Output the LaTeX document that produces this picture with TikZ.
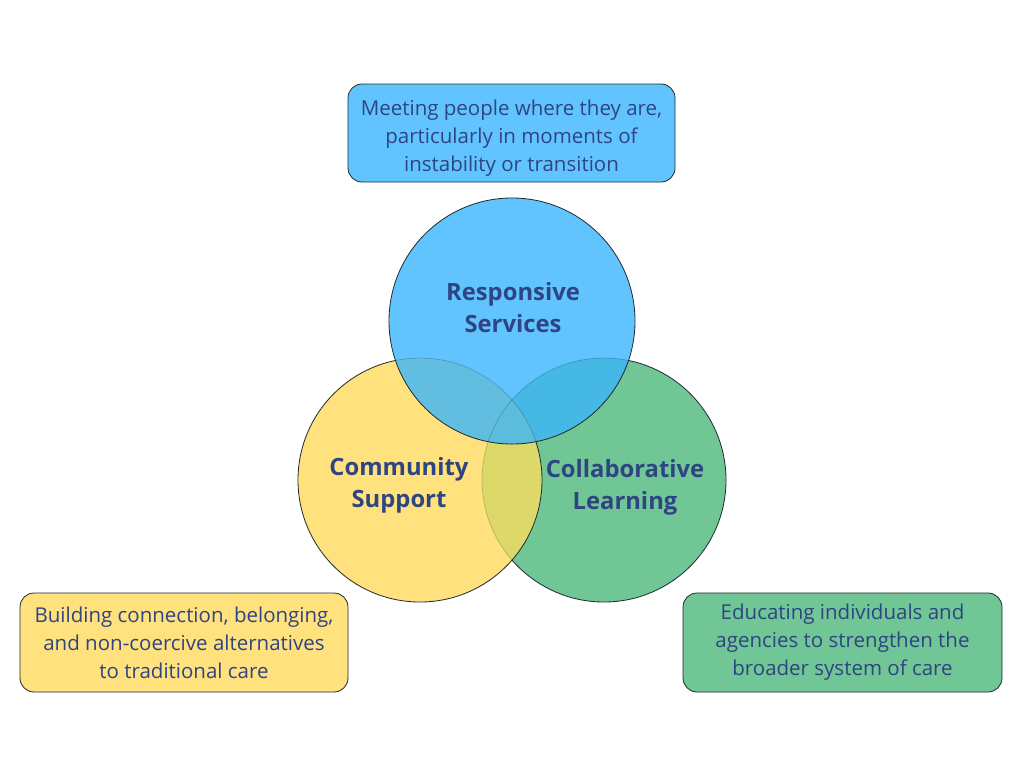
\documentclass[tikz,border=0pt]{standalone}
\usepackage{fontspec}
\setmainfont{Open Sans}
\definecolor{cblue}{HTML}{62C4FF}
\definecolor{cyellow}{HTML}{FFE17D}
\definecolor{cgreen}{HTML}{70C694}
\definecolor{cyg}{HTML}{DDD86A}
\definecolor{cby}{HTML}{62BEE0}
\definecolor{cbg}{HTML}{45B8E5}
\definecolor{cbyg}{HTML}{5CBCDC}
\definecolor{ink}{HTML}{2F4483}
\definecolor{edge}{HTML}{1E2A2E}
\tikzset{
  infobox/.style={draw=edge, line width=0.8pt, rounded corners=14pt, inner sep=0pt},
  infotext/.style={align=center, text=ink, font=\fontsize{20.5}{28}\selectfont, inner sep=0pt},
  title/.style={align=center, text=ink, font=\fontsize{23.8}{32}\selectfont\bfseries},
  outline/.style={draw=edge, line width=0.8pt},
  faint/.style={draw=black, draw opacity=0.18, line width=0.8pt}
}
\begin{document}
\begin{tikzpicture}[x=1pt,y=-1pt]
\useasboundingbox (0,0) rectangle (1024,768);
\fill[white] (0,0) rectangle (1024,768);
\def\B{(512,321) circle (123)}
\def\Y{(420,480) circle (122)}
\def\G{(604,480) circle (122)}
% green and yellow
\fill[cgreen] \G;
\fill[cyellow] \Y;
\begin{scope}\clip \Y; \fill[cyg] \G; \path[faint] \G; \end{scope}
\path[outline] \Y;
\begin{scope}[even odd rule]
  \clip (-10,-10) rectangle (1034,778) \Y;
  \path[outline] \G;
\end{scope}
% blue
\fill[cblue] \B;
\begin{scope}\clip \B; \fill[cby] \Y; \fill[cbg] \G;
  \begin{scope}\clip \Y; \fill[cbyg] \G; \end{scope}
  \path[faint] \Y; \path[faint] \G;
\end{scope}
\path[outline] \B;
% titles
\node[title] (rs) at (513,308) {Responsive\\Services};
\node[title] (cs) at (399,485) {Community\\Support};
\node[title] (cl) at (625,487) {Collaborative\\Learning};
% info boxes
\node[infobox, fill=cblue, minimum width=327pt, minimum height=98pt] (top) at (511.5,133) {};
\node[infotext] (toptext) at ([yshift=-5pt]top.center)
  {Meeting people where they are,\\particularly in moments of\\instability or transition};
\node[infobox, fill=cyellow, minimum width=328pt, minimum height=99pt] (left) at (184,642.5) {};
\node[infotext] (lefttext) at ([yshift=0pt]left.center)
  {Building connection, belonging,\\and non-coercive alternatives\\to traditional care};
\node[infobox, fill=cgreen, minimum width=319pt, minimum height=99pt] (right) at (842.5,642.5) {};
\node[infotext] (righttext) at ([yshift=0pt]right.center)
  {Educating individuals and\\agencies to strengthen the\\broader system of care};
\end{tikzpicture}
\end{document}
